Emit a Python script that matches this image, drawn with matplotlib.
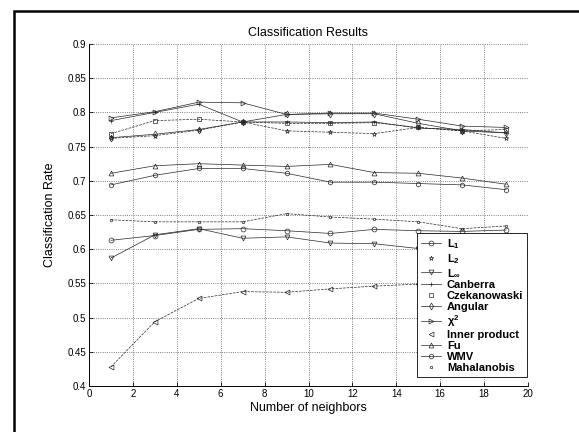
import numpy as np
import matplotlib
matplotlib.use("Agg")
from matplotlib import pyplot as plt
from matplotlib.lines import Line2D
from matplotlib.patches import Rectangle

plt.rcParams['font.family'] = ['Liberation Sans', 'DejaVu Sans']
plt.rcParams['mathtext.fontset'] = 'custom'
plt.rcParams['mathtext.rm'] = 'Liberation Sans'
plt.rcParams['mathtext.it'] = 'Liberation Sans'
plt.rcParams['mathtext.bf'] = 'Liberation Sans:bold'

#Data
neighbors = [1, 3, 5, 7, 9, 11, 13, 15, 17, 19]
labels = ['$\\mathbf{L_1}$', '$\\mathbf{L_2}$', '$\\mathbf{L_\\infty}$', 'Canberra', 'Czekanowaski', 'Angular',
          '$\\mathbf{\\chi^2}$', 'Inner product', 'Fu', 'WMV', 'Mahalanobis']
markers = ['o', '*', 'v', '+', 's', 'd', '>', '<', '^', 'h', '.']
# series drawn with a line in the legend (others: marker only)
solid = [True, False, True, True, False, True, True, False, True, True, False]

l1 = [0.613, 0.620, 0.629, 0.630, 0.627, 0.623, 0.629, 0.627, 0.626, 0.628]
l2 = [0.762, 0.766, 0.774, 0.786, 0.773, 0.771, 0.769, 0.778, 0.773, 0.762]
linf = [0.587, 0.621, 0.630, 0.616, 0.618, 0.609, 0.608, 0.601, 0.598, 0.596]
canberra = [0.788, 0.800, 0.812, 0.786, 0.786, 0.785, 0.786, 0.777, 0.775, 0.770]
czek = [0.769, 0.788, 0.790, 0.786, 0.784, 0.784, 0.785, 0.778, 0.773, 0.775]
angular = [0.763, 0.768, 0.775, 0.786, 0.797, 0.798, 0.798, 0.784, 0.773, 0.770]
chi2 = [0.792, 0.801, 0.815, 0.814, 0.797, 0.799, 0.799, 0.790, 0.780, 0.778]
inner = [0.428, 0.494, 0.528, 0.538, 0.537, 0.542, 0.546, 0.549, 0.552, 0.553]
fu = [0.711, 0.722, 0.725, 0.723, 0.721, 0.724, 0.712, 0.711, 0.704, 0.695]
wmv = [0.694, 0.708, 0.718, 0.718, 0.711, 0.698, 0.698, 0.696, 0.694, 0.687]
mahal = [0.643, 0.640, 0.640, 0.640, 0.652, 0.647, 0.644, 0.640, 0.630, 0.634]
series = [l1, l2, linf, canberra, czek, angular, chi2, inner, fu, wmv, mahal]

fig = plt.figure(figsize=(5.79, 4.32), dpi=100)
ax = fig.add_axes([89/579, 1-386/432, 439/579, 342/432])

handles = []
for vals, lab, m, s in zip(series, labels, markers, solid):
  ls = '-' if s else '--'
  ax.plot(neighbors, vals, color='0.15', linestyle=ls, linewidth=0.5,
          marker=m, markersize=3.5, markerfacecolor='none', markeredgewidth=0.5)
  handles.append(Line2D([], [], color='0.15', linestyle='-' if s else 'none', linewidth=0.5,
                        marker=m, markersize=3.5, markerfacecolor='none',
                        markeredgewidth=0.5, label=lab))

ax.set_xlim(0, 20)
ax.set_ylim(0.4, 0.9)
ax.set_xticks(np.arange(0, 21, 2))
ax.set_yticks(np.arange(0.4, 0.91, 0.05))
ax.set_yticklabels(['0.4', '0.45', '0.5', '0.55', '0.6', '0.65', '0.7', '0.75', '0.8', '0.85', '0.9'])
ax.tick_params(direction='in', length=3, labelsize=7, width=0.6, pad=2)
ax.grid(True, linestyle=':', color='0.35', linewidth=0.6)
ax.spines['top'].set_visible(False)
ax.spines['right'].set_visible(False)
ax.spines['left'].set_linewidth(0.7)
ax.spines['bottom'].set_linewidth(0.7)

ax.set_title('Classification Results', fontsize=9, pad=6)
ax.set_xlabel('Number of neighbors', fontsize=9, labelpad=2)
ax.set_ylabel('Classification Rate', fontsize=9, labelpad=8)

leg = ax.legend(handles=handles, loc='lower right', bbox_to_anchor=(0.998, 0.026),
                prop={'size': 8, 'weight': 'bold'}, frameon=True, fancybox=False, framealpha=1,
                edgecolor='k', labelspacing=0.1, handlelength=1.8, borderpad=0.35,
                handletextpad=0.5, borderaxespad=0)
leg.get_frame().set_linewidth(0.6)

# black outer frame (cropped at right and bottom)
fig.add_artist(Rectangle((14/579, -0.5), 2, 0.5 + 1 - 10.5/432, transform=fig.transFigure,
                         fill=False, edgecolor='k', linewidth=1.8))

fig.savefig('out.png', dpi=100)
